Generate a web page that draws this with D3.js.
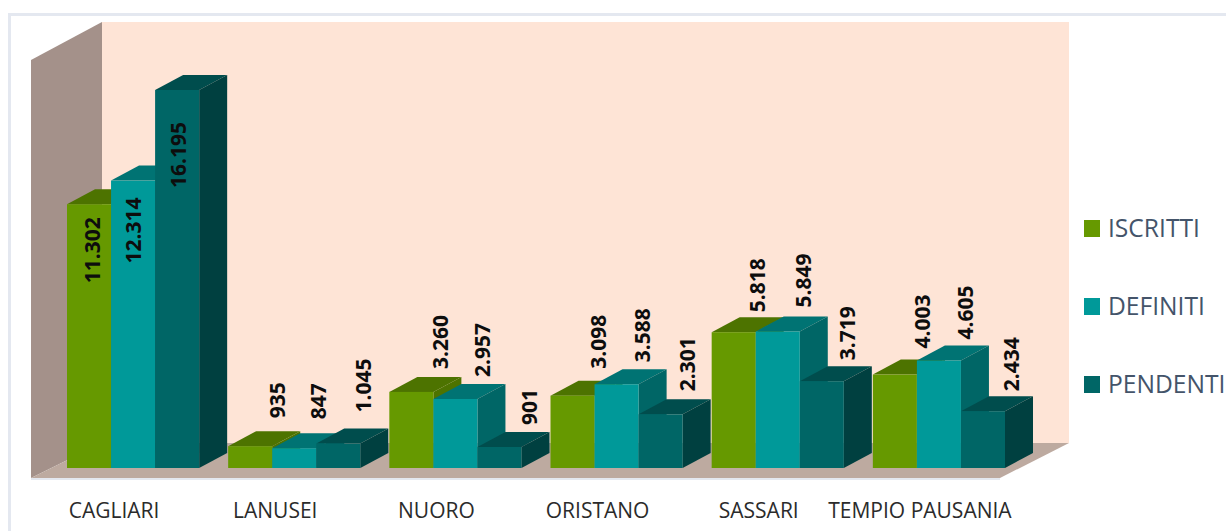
<!DOCTYPE html>
<html><head><meta charset="utf-8">
<script src="https://cdn.jsdelivr.net/npm/d3@7"></script>
<style>html,body{margin:0;padding:0;background:#fff;overflow:hidden}svg{display:block}</style>
</head><body><svg id="c" width="1226" height="531"></svg>
<script>
const categories = ["CAGLIARI","LANUSEI","NUORO","ORISTANO","SASSARI","TEMPIO PAUSANIA"];
const seriesNames = ["ISCRITTI","DEFINITI","PENDENTI"];
const iscritti = [11302,935,3260,3098,5818,4003];
const definiti = [12314,847,2957,3588,5849,4605];
const pendenti = [16195,1045,901,2301,3719,2434];
const seriesValues = [iscritti,definiti,pendenti];

// appearance and layout, kept apart from the data
const frontColors = ["#669900","#009999","#006666"];
const topColors   = ["#4d7300","#007373","#004d4d"];
const sideColors  = ["#4d7300","#006666","#004040"];
const labelLift = [[-13,-17,-32],[28,29,31],[23,22,22],[27,22,23],[20,24,21],[26,21,20]];
const labelShift = [[3,0,1],[27,24,25],[29,27,30],[26,26,27],[24,26,26],[28,27,28]];
const W = 1226, H = 531, base = 468, dx = 28, dy = 15;

const svg = d3.select("#c");
const x0 = d3.scaleBand().domain(categories).range([67,1005]).paddingInner(0.18);
const x1 = d3.scaleBand().domain(seriesNames).range([0,x0.bandwidth()]);
const y = d3.scaleLinear().domain([0,16195]).range([base,90]);
const fmt = d3.formatLocale({decimal:",",thousands:".",grouping:[3],currency:["",""]}).format(",d");
const pts = a => a.map(p => p.join(",")).join(" ");

// frame
svg.append("path").attr("d","M9.5,531V14.5H1226").attr("fill","none").attr("stroke","#e4e8f0").attr("stroke-width",3);
// walls and floor
svg.append("polygon").attr("points",pts([[31,60],[102,22],[102,443],[31,478]])).attr("fill","#a4918a");
svg.append("polygon").attr("points",pts([[102,22],[1069,22],[1069,443],[102,443]])).attr("fill","#fee4d6");
svg.append("polygon").attr("points",pts([[31,478],[102,443],[1069,443],[1000,478]])).attr("fill","#bdaaa0");
svg.append("line").attr("x1",31).attr("x2",1000).attr("y1",479).attr("y2",479).attr("stroke","#e4e8f0").attr("stroke-width",2);

// bars
categories.forEach((c,i) => {
  seriesNames.forEach((s,j) => {
    const v = seriesValues[j][i];
    const l = x0(c)+x1(s), r = l+x1.bandwidth(), t = y(v);
    const g = svg.append("g");
    g.append("polygon").attr("points",pts([[l,t],[l+dx,t-dy],[r+dx,t-dy],[r,t]])).attr("fill",topColors[j]);
    g.append("polygon").attr("points",pts([[r,t],[r+dx,t-dy],[r+dx,base-dy],[r,base]])).attr("fill",sideColors[j]);
    g.append("rect").attr("x",l).attr("y",t).attr("width",r-l).attr("height",base-t).attr("fill",frontColors[j]);
  });
});
// labels on top of all bars
categories.forEach((c,i) => {
  seriesNames.forEach((s,j) => {
    const v = seriesValues[j][i];
    const cx = x0(c)+x1(s)+x1.bandwidth()/2+labelShift[i][j];
    const inside = labelLift[i][j] < 0;
    svg.append("text")
      .attr("transform",`translate(${cx},${y(v)-labelLift[i][j]}) rotate(-90)`)
      .attr("text-anchor", inside ? "end" : "start")
      .attr("dy","0.36em")
      .attr("font-family","'Open Sans',sans-serif").attr("font-weight",700).attr("font-size",21)
      .attr("fill","#0d0d0d").text(fmt(v));
  });
});
// category axis
const ax = svg.append("g").attr("transform",`translate(-19,${base+12})`)
  .call(d3.axisBottom(x0).tickSize(0).tickPadding(23));
ax.select(".domain").remove();
ax.selectAll("text").attr("font-family","'Open Sans',sans-serif").attr("font-size",21).attr("fill","#2b2b2b");

// legend
const ly = d3.scalePoint().domain(seriesNames).range([228.5,384.5]);
seriesNames.forEach((s,j) => {
  svg.append("rect").attr("x",1084).attr("y",ly(s)-8.5).attr("width",16).attr("height",17).attr("fill",frontColors[j]);
  svg.append("text").attr("x",1108).attr("y",ly(s)).attr("dy","0.36em")
    .attr("font-family","'Open Sans',sans-serif").attr("font-size",24.6).attr("fill","#44546a").text(s);
});
</script></body></html>
